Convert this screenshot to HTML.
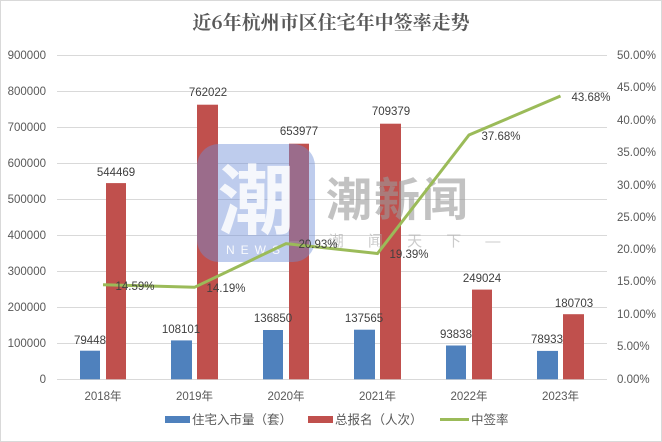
<!DOCTYPE html><html><head><meta charset="utf-8"><style>body{margin:0;background:#fff}svg{display:block}text{font-family:"Liberation Sans","Noto Sans CJK SC",sans-serif}</style></head><body>
<svg width="662" height="442" viewBox="0 0 662 442">
<rect x="0.5" y="0.5" width="661" height="441" fill="#fff" stroke="#d9d9d9"/>
<text x="331" y="29" text-anchor="middle" font-size="19" font-weight="bold" fill="#595959" style="font-family:'Noto Serif CJK SC','Noto Sans CJK SC',serif">近6年杭州市区住宅年中签率走势</text>
<g stroke="#d9d9d9" stroke-width="1">
<line x1="57" x2="607" y1="55.5" y2="55.5"/><line x1="57" x2="607" y1="91.5" y2="91.5"/><line x1="57" x2="607" y1="127.5" y2="127.5"/><line x1="57" x2="607" y1="163.5" y2="163.5"/><line x1="57" x2="607" y1="199.5" y2="199.5"/><line x1="57" x2="607" y1="235.5" y2="235.5"/><line x1="57" x2="607" y1="271.5" y2="271.5"/><line x1="57" x2="607" y1="307.5" y2="307.5"/><line x1="57" x2="607" y1="343.5" y2="343.5"/><line x1="57" x2="607" y1="379.5" y2="379.5"/>
</g>
<g font-size="11.5" fill="#595959" text-anchor="end">
<text x="46" y="59">900000</text><text x="46" y="95">800000</text><text x="46" y="131">700000</text><text x="46" y="167">600000</text><text x="46" y="203">500000</text><text x="46" y="239">400000</text><text x="46" y="275">300000</text><text x="46" y="311">200000</text><text x="46" y="347">100000</text><text x="46" y="383">0</text>
</g>
<g font-size="11.5" fill="#595959">
<text x="617" y="59">50.00%</text><text x="617" y="91">45.00%</text><text x="617" y="124">40.00%</text><text x="617" y="156">35.00%</text><text x="617" y="189">30.00%</text><text x="617" y="221">25.00%</text><text x="617" y="253">20.00%</text><text x="617" y="285">15.00%</text><text x="617" y="318">10.00%</text><text x="617" y="350">5.00%</text><text x="617" y="383">0.00%</text>
</g>
<g fill="#4f81bd">
<rect x="80" y="350.7" width="20" height="28.6"/><rect x="171" y="340.4" width="21" height="38.9"/><rect x="263" y="330" width="20" height="49.3"/><rect x="354" y="329.7" width="21" height="49.6"/><rect x="446" y="345.5" width="20" height="33.8"/><rect x="537" y="350.9" width="21" height="28.4"/>
</g>
<g fill="#c0504d">
<rect x="106" y="183.1" width="20" height="196.2"/><rect x="197" y="104.7" width="21" height="274.6"/><rect x="289" y="143.7" width="20" height="235.6"/><rect x="380" y="123.7" width="21" height="255.6"/><rect x="472" y="289.6" width="20" height="89.7"/><rect x="563" y="314.2" width="21" height="65.1"/>
</g>
<!-- watermark -->
<rect x="197" y="144" width="118" height="118" rx="22" fill="#6f8fd8" opacity="0.45"/>
<text x="256" y="228" text-anchor="middle" font-size="76" font-weight="bold" fill="#fff" opacity="0.85">潮</text>
<text x="256" y="254" text-anchor="middle" font-size="12" fill="#fff" letter-spacing="6" opacity="0.9">NEWS</text>
<text x="398" y="216" text-anchor="middle" font-size="46" font-weight="bold" fill="#9a9a9a" opacity="0.6" letter-spacing="2">潮新闻</text>
<text x="400" y="246" text-anchor="middle" font-size="15" fill="#aaa" opacity="0.6" letter-spacing="10">— 潮 闻 天 下 —</text>
<polyline fill="none" stroke="#9bbb59" stroke-width="3" points="103,284.7 194.5,287.3 286,243.6 377.5,253.5 469,135 560.5,96.0"/>
<g font-size="11.5" fill="#404040" text-anchor="middle">
<text x="90" y="344">79448</text><text x="116" y="176">544469</text>
<text x="181" y="333">108101</text><text x="208" y="96">762022</text>
<text x="273" y="322">136850</text><text x="299" y="135">653977</text>
<text x="364" y="322">137565</text><text x="391" y="115">709379</text>
<text x="456" y="338">93838</text><text x="482" y="282">249024</text>
<text x="547" y="343">78933</text><text x="574" y="307">180703</text>
<text x="135" y="290">14.59%</text><text x="226" y="292">14.19%</text><text x="318" y="248">20.93%</text><text x="409" y="258">19.39%</text><text x="501" y="140">37.68%</text><text x="591" y="101">43.68%</text>
</g>
<g font-size="11.5" fill="#595959" text-anchor="middle">
<text x="103" y="400">2018年</text><text x="194.5" y="400">2019年</text><text x="286" y="400">2020年</text><text x="377.5" y="400">2021年</text><text x="469" y="400">2022年</text><text x="560.5" y="400">2023年</text>
</g>
<rect x="165" y="416" width="25" height="7" fill="#4f81bd"/><text x="192" y="424" font-size="12.5" fill="#595959">住宅入市量（套）</text>
<rect x="308" y="416" width="25" height="7" fill="#c0504d"/><text x="335" y="424" font-size="12.5" fill="#595959">总报名（人次）</text>
<line x1="440" x2="469" y1="419.5" y2="419.5" stroke="#9bbb59" stroke-width="3"/><text x="471" y="424" font-size="12.5" fill="#595959">中签率</text>
</svg></body></html>
